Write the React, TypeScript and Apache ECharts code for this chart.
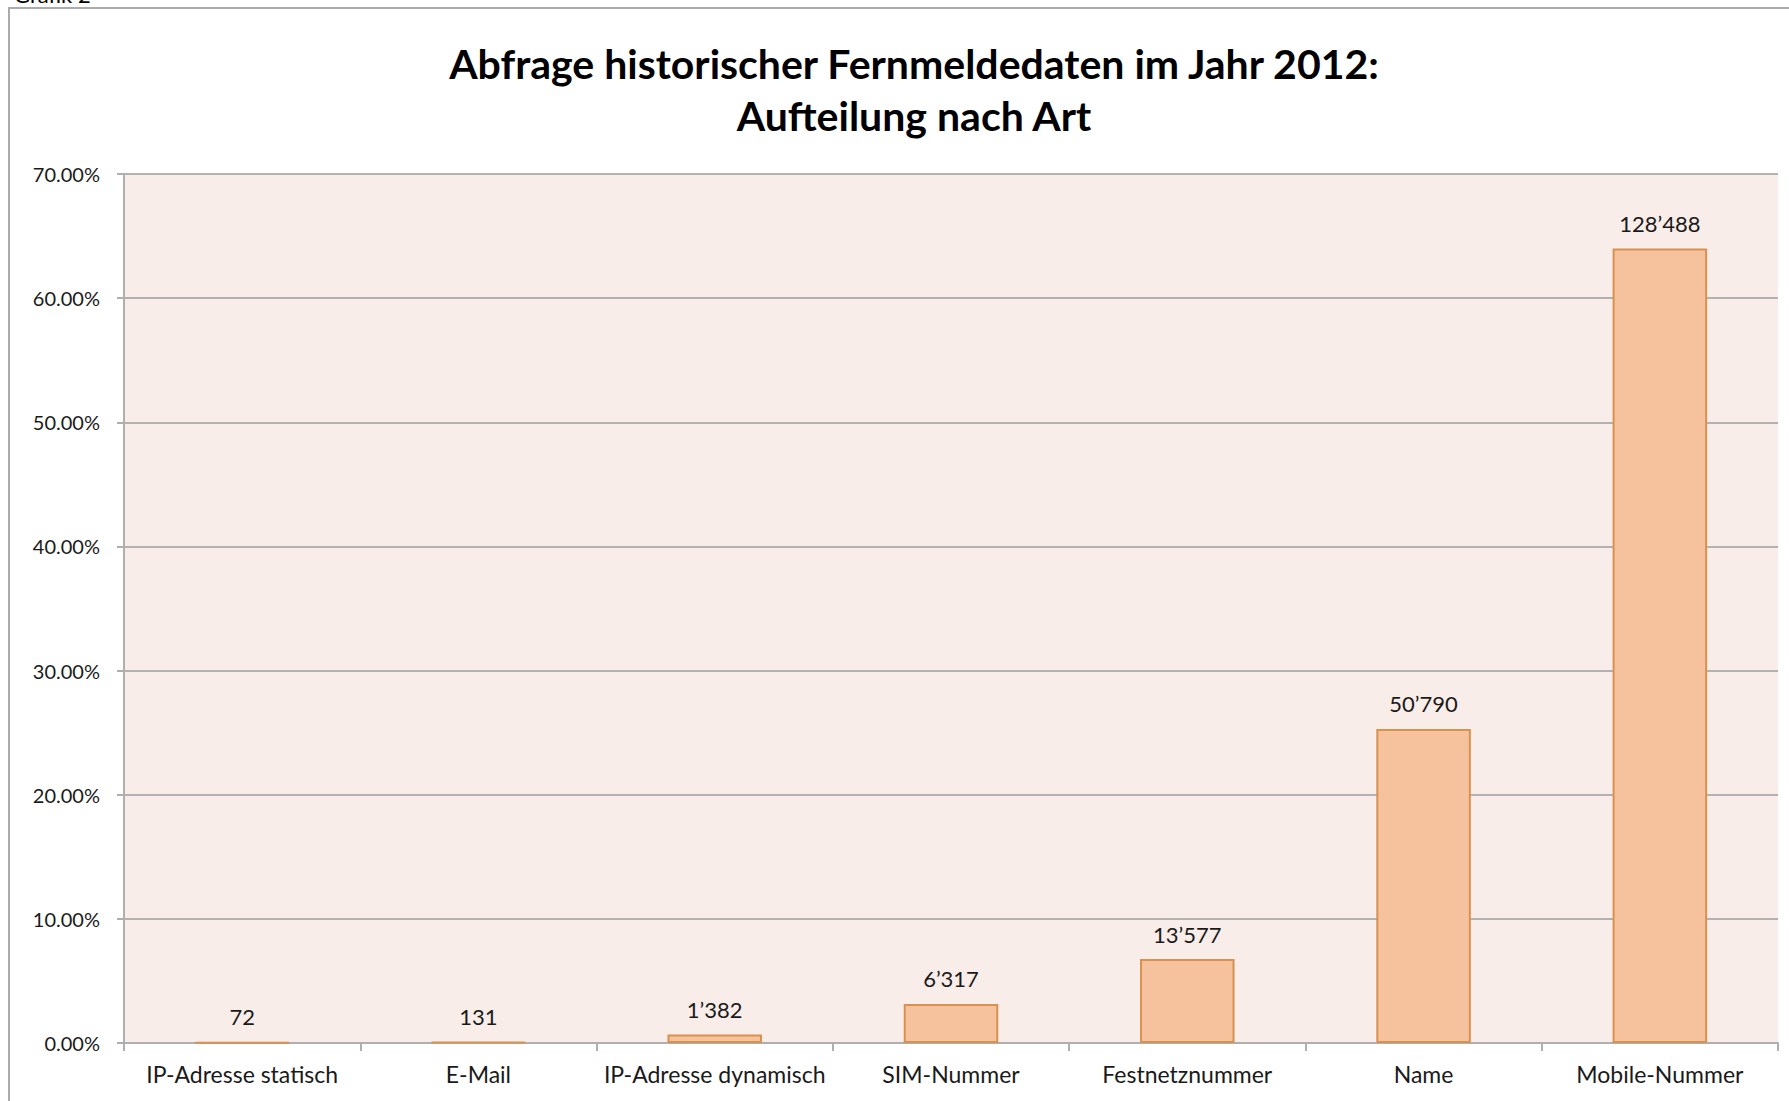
import React, { useEffect, useRef } from "react";
import * as echarts from "echarts";

const categories = [
  "IP-Adresse statisch",
  "E-Mail",
  "IP-Adresse dynamisch",
  "SIM-Nummer",
  "Festnetznummer",
  "Name",
  "Mobile-Nummer",
];
const counts = [72, 131, 1382, 6317, 13577, 50790, 128488];
const titleLines = ["Abfrage historischer Fernmeldedaten im Jahr 2012:", "Aufteilung nach Art"];

const total = counts.reduce((a, b) => a + b, 0);
const shares = counts.map((c) => c / total);
const fmtCount = (n: number) => String(n).replace(/\B(?=(\d{3})+(?!\d))/g, "\u2019");

const FONT = "Lato, 'Open Sans', sans-serif";

export default function App() {
  const ref = useRef<HTMLDivElement>(null);
  useEffect(() => {
    if (!ref.current) return;
    const chart = echarts.init(ref.current, null, { renderer: "svg" });
    chart.setOption({
      animation: false,
      backgroundColor: "#ffffff",
      title: {
        text: titleLines.join("\n"),
        left: 909,
        top: 32,
        textAlign: "center",
        textStyle: {
          fontFamily: FONT,
          fontWeight: "bold",
          fontSize: 41,
          lineHeight: 52,
          color: "#000000",
        },
      },
      graphic: [
        {
          type: "rect",
          shape: { x: 9, y: 8, width: 1800, height: 1110 },
          style: { fill: "none", stroke: "#ABABAB", lineWidth: 2 },
          silent: true,
        },
        {
          type: "text",
          x: 14,
          y: -17,
          style: { text: "Grafik 2", fontFamily: FONT, fontSize: 22, fill: "#000" },
          silent: true,
        },
      ],
      grid: {
        left: 124,
        right: 11,
        top: 174,
        bottom: 58,
        show: true,
        backgroundColor: "#F9EDE9",
        borderWidth: 0,
      },
      xAxis: {
        type: "category",
        data: categories,
        axisLine: { show: true, lineStyle: { color: "#AFAFAF", width: 2 } },
        axisTick: { show: true, length: 8, alignWithLabel: false, lineStyle: { color: "#AFAFAF", width: 2 } },
        axisLabel: { margin: 19, fontFamily: FONT, fontSize: 23, color: "#1a1a1a", interval: 0 },
      },
      yAxis: {
        type: "value",
        min: 0,
        max: 0.7,
        interval: 0.1,
        axisLine: { show: true, lineStyle: { color: "#AFAFAF", width: 2 } },
        axisTick: { show: true, length: 7, lineStyle: { color: "#AFAFAF", width: 2 } },
        splitLine: { show: true, lineStyle: { color: "#B2B2B2", width: 2 } },
        axisLabel: {
          margin: 24,
          fontFamily: FONT,
          fontSize: 20,
          color: "#1a1a1a",
          padding: [4, 0, 0, 0],
          formatter: (v: number) => (v * 100).toFixed(2) + "%",
        },
      },
      series: [
        {
          type: "bar",
          data: shares,
          barWidth: "40%",
          itemStyle: { color: "#F6C29D", borderColor: "#D9914F", borderWidth: 2 },
          label: {
            show: true,
            position: "top",
            distance: 14,
            fontFamily: FONT,
            fontSize: 22,
            color: "#1a1a1a",
            formatter: (p: any) => fmtCount(counts[p.dataIndex]),
          },
        },
      ],
    });
    return () => chart.dispose();
  }, []);
  return (
    <div
      ref={ref}
      style={{ position: "fixed", left: 0, top: 0, width: 1789, height: 1101 }}
    />
  );
}
